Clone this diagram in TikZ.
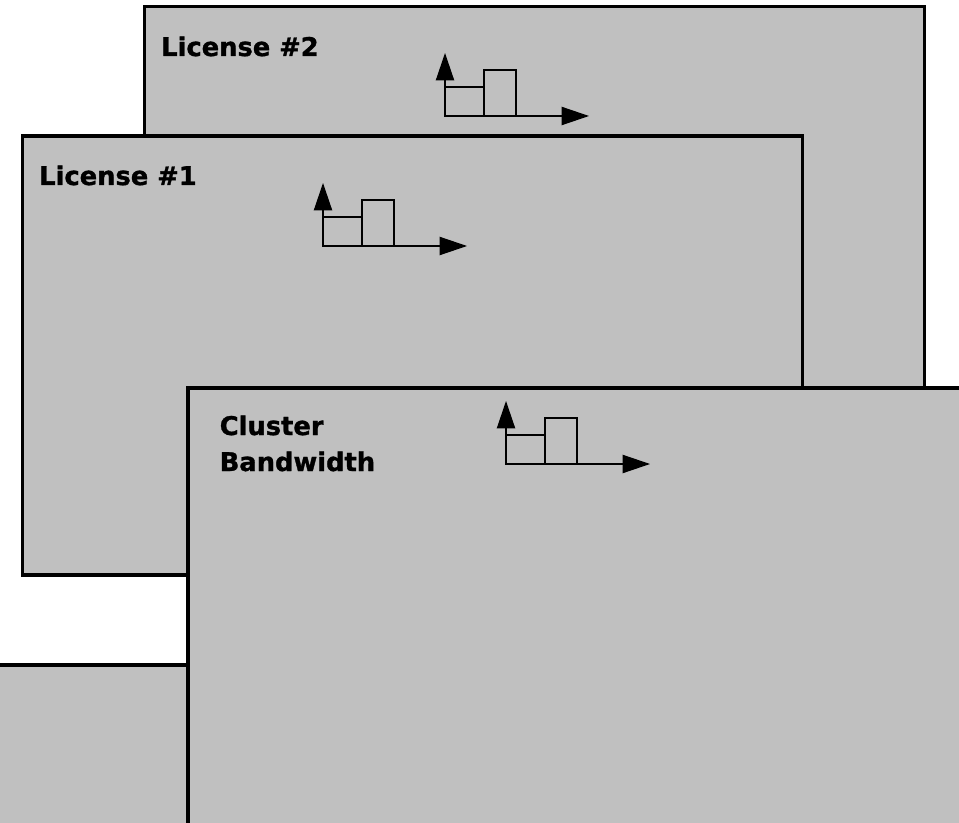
\documentclass[tikz,border=0pt]{standalone}
\usepackage{fontspec}
\setmainfont{DejaVu Sans}
\newfontfamily\heavyfont{DejaVu Sans}[UprightFont=*-Bold, FakeBold=1.2]
\usetikzlibrary{arrows.meta}
\definecolor{panelgray}{HTML}{C0C0C0}
\tikzset{
  panel/.style={draw=black, fill=panelgray, line width=2.5pt},
  thin/.style={draw=black, line width=0.9pt},
  axis/.style={thin, -{Triangle[length=20.5pt,width=13.7pt]}},
  title/.style={anchor=base west, inner sep=0pt, align=left,
    font=\fontsize{19.3pt}{27pt}\selectfont\heavyfont},
  pics/chart/.style={code={
    \draw[thin] (0,0) rectangle (39,-29);
    \draw[thin] (39,0) rectangle (71,-46);
    \coordinate (-o) at (0,0);
    \coordinate (-v) at (0,-63);
    \coordinate (-h) at (144,0);
    \draw[axis] (-o) -- (-v);
    \draw[axis] (-o) -- (-h);
  }}
}
\begin{document}
\begin{tikzpicture}[x=0.75pt,y=-0.75pt]
\useasboundingbox (0,0) rectangle (959,823);
\fill[white] (0,0) rectangle (959,823);
\clip (0,0) rectangle (959,823);
% License #2
\draw[panel] (144.3,6.7) rectangle (924.3,447);
\node[title] (l2) at (161,56) {License \#2};
\pic (c2) at (445,116) {chart};
% License #1
\draw[panel] (22.3,136) rectangle (802.3,575);
\node[title] (l1) at (39,185) {License \#1};
\pic (c1) at (323,246) {chart};
% bottom-left panel
\draw[panel] (-100,665) rectangle (700,1000);
% Cluster bandwidth
\draw[panel] (188,388) rectangle (1000,1000);
\node[title] (cb1) at (219.5,435) {Cluster};
\node[title] (cb2) at (219.5,471) {Bandwidth};
\pic (c3) at (506,464) {chart};
\end{tikzpicture}
\end{document}
